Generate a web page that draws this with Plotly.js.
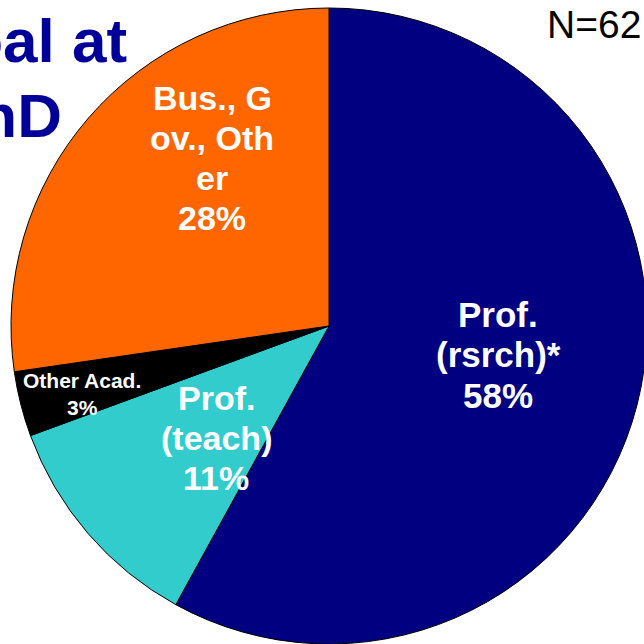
<!DOCTYPE html>
<html>
<head>
<meta charset="utf-8">
<script src="https://cdn.plot.ly/plotly-3.0.1.min.js"></script>
<style>
html, body { margin:0; padding:0; overflow:hidden; background:#fff; }
#chart { width:700px; height:700px; }
</style>
</head>
<body>
<div id="chart"></div>
<script>
// ---- data ----
const categories = ["Prof. (rsrch)*", "Prof. (teach)", "Other Acad.", "Bus., Gov., Other"];
// slice sizes
const values = [58.0, 11.4, 3.3, 27.3];
// percentage texts as printed on the slices
const pctLabels = ["58%", "11%", "3%", "28%"];
const sliceColors = ["#000080", "#33CCCC", "#000000", "#FF6600"];
// label lines as they are broken in the picture
const labelLines = [
  ["Prof.", "(rsrch)*"],
  ["Prof.", "(teach)"],
  ["Other Acad."],
  ["Bus., G", "ov., Oth", "er"]
];
const titleLines = ["Goal at", "PhD"];
const noteText = "N=62";

// ---- layout helpers ----
const W = 700, H = 700;
const px = x => x / W;
const py = y => 1 - y / H;
const FONT = "Arial, 'Liberation Sans', sans-serif";

// label placement (centre x, first baseline, line step, font size)
const labelPlace = [
  {cx: 498, b0: 327, step: 40.5, size: 35},
  {cx: 216, b0: 410, step: 40, size: 34},
  {cx: 82,  b0: 388, step: 27, size: 21},
  {cx: 212, b0: 110, step: 40, size: 34}
];

const annotations = [];
labelLines.forEach((lines, i) => {
  const all = lines.concat([pctLabels[i]]);
  const p = labelPlace[i];
  all.forEach((t, j) => {
    const base = p.b0 + j * p.step;
    annotations.push({
      text: t, xref: "paper", yref: "paper",
      x: px(p.cx), y: py(base - 0.36 * p.size),
      xanchor: "center", yanchor: "middle", showarrow: false,
      font: {family: FONT, size: p.size, color: "#ffffff", weight: "bold"}
    });
  });
});
// title fragments (cropped at the left edge)
const titlePlace = [{rx: 129, base: 63}, {rx: 64, base: 138}];
titleLines.forEach((t, j) => {
  annotations.push({
    text: t, xref: "paper", yref: "paper",
    x: px(titlePlace[j].rx), y: py(titlePlace[j].base - 0.36 * 62),
    xanchor: "right", yanchor: "middle", showarrow: false,
    font: {family: FONT, size: 62, color: "#000099", weight: "bold"}
  });
});
annotations.push({
  text: noteText, xref: "paper", yref: "paper",
  x: px(545), y: py(38 - 0.36 * 38),
  xanchor: "left", yanchor: "middle", showarrow: false,
  font: {family: FONT, size: 39, color: "#000000"}
});

const trace = {
  type: "pie",
  labels: categories,
  values: values,
  sort: false,
  direction: "clockwise",
  rotation: 0,
  textinfo: "none",
  hoverinfo: "none",
  marker: {colors: sliceColors, line: {color: "#000000", width: 1}},
  domain: {x: [px(11), px(647)], y: [py(644), py(8)]}
};

Plotly.newPlot("chart", [trace], {
  width: W, height: H,
  margin: {l:0, r:0, t:0, b:0},
  showlegend: false,
  paper_bgcolor: "#ffffff",
  annotations: annotations
}, {staticPlot: true});
</script>
</body>
</html>
